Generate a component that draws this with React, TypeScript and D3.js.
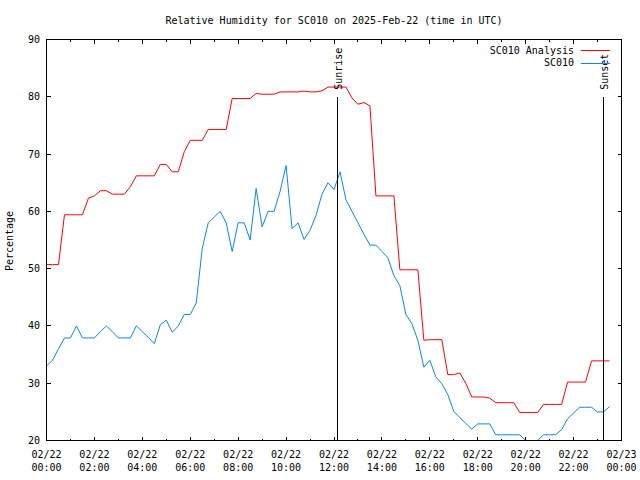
import React from "react";
import * as d3 from "d3";

const TITLE = "Relative Humidity for SC010 on 2025-Feb-22 (time in UTC)";
const Y_LABEL = "Percentage";
const START_HOUR = 0;
const STEP_HOURS = 0.25;

// SC010 Analysis (15-minute samples from 00:00 to 23:30)
const analysis = [
  50.7, 50.7, 50.7, 59.4, 59.4, 59.4, 59.4, 62.3,
  62.7, 63.6, 63.6, 63.0, 63.0, 63.0, 64.3, 66.2,
  66.2, 66.2, 66.2, 68.2, 68.2, 66.9, 66.9, 70.4,
  72.4, 72.4, 72.4, 74.3, 74.3, 74.3, 74.3, 79.7,
  79.7, 79.7, 79.7, 80.6, 80.45, 80.45, 80.45, 80.85,
  80.85, 80.85, 80.85, 81.0, 80.85, 80.85, 81.05, 81.7,
  81.7, 81.7, 81.7, 79.8, 78.7, 79.0, 78.4, 62.7,
  62.7, 62.7, 62.7, 49.8, 49.8, 49.8, 49.8, 37.5,
  37.6, 37.6, 37.6, 31.5, 31.5, 31.8, 30.0, 27.6,
  27.6, 27.6, 27.4, 26.6, 26.6, 26.6, 26.6, 24.9,
  24.9, 24.9, 24.9, 26.3, 26.3, 26.3, 26.3, 30.2,
  30.2, 30.2, 30.2, 33.9, 33.9, 33.9, 33.9,
];

// SC010 observations (15-minute samples from 00:00 to 23:30)
const observed = [
  33.0, 34.0, 36.0, 37.9, 37.9, 40.0, 37.9, 37.9,
  37.9, 39.0, 40.0, 39.0, 37.9, 37.9, 37.9, 40.0,
  39.0, 38.0, 36.9, 40.2, 41.0, 38.9, 40.0, 42.0,
  42.0, 44.0, 53.5, 58.0, 59.0, 60.0, 58.0, 53.0,
  58.0, 58.0, 55.0, 64.0, 57.3, 60.0, 60.0, 63.5,
  68.0, 57.0, 58.0, 55.1, 56.7, 59.3, 63.0, 65.0,
  63.8, 66.9, 62.0, 60.0, 58.0, 56.0, 54.1, 54.1,
  53.0, 51.9, 48.8, 47.0, 42.0, 40.4, 37.5, 32.8,
  34.0, 31.1, 29.9, 28.0, 25.1, 24.0, 23.0, 22.0,
  22.9, 22.9, 22.9, 21.0, 21.0, 21.0, 21.0, 21.0,
  20.0, 20.0, 20.0, 21.0, 21.0, 21.0, 21.9, 23.8,
  24.8, 25.8, 25.8, 25.8, 25.0, 25.0, 25.9,
];

const yTicks = [20, 30, 40, 50, 60, 70, 80, 90];
const xMajorTicks = [0, 2, 4, 6, 8, 10, 12, 14, 16, 18, 20, 22, 24];
const xTickDates = ["02/22", "02/22", "02/22", "02/22", "02/22", "02/22", "02/22", "02/22", "02/22", "02/22", "02/22", "02/22", "02/23"];
const xTickTimes = ["00:00", "02:00", "04:00", "06:00", "08:00", "10:00", "12:00", "14:00", "16:00", "18:00", "20:00", "22:00", "00:00"];
const xMinorTicks = [1, 3, 5, 7, 9, 11, 13, 15, 17, 19, 21, 23];

const SUNRISE = 12.13;
const SUNSET = 23.22;
const markerTop = 80;

const seriesNames = ["SC010 Analysis", "SC010"];
const seriesColors = ["#ff0000", "#0a84ff"];

const FONT = "'DejaVu Sans Mono', 'Liberation Mono', monospace";
const FS = 10;

export default function App() {
  const W = 640, H = 480;
  const L = 46.5, R = 621.5, T = 39.5, B = 440.5;
  const x = d3.scaleLinear().domain([0, 24]).range([L, R]);
  const y = d3.scaleLinear().domain([20, 90]).range([B, T]);

  const line = d3
    .line<number>()
    .x((_, i) => x(START_HOUR + i * STEP_HOURS))
    .y((d) => y(d));

  const series = [analysis, observed];

  return (
    <svg
      width={W}
      height={H}
      style={{ position: "absolute", left: 0, top: 0, background: "#fff" }}
      fontFamily={FONT}
      fontSize={FS}
    >
      <rect x={0} y={0} width={W} height={H} fill="#fff" />
      <defs>
        <clipPath id="plot">
          <rect x={L} y={T} width={R - L} height={B - T} />
        </clipPath>
      </defs>
      <text x={(L + R) / 2} y={20} textAnchor="middle" dominantBaseline="central">
        {TITLE}
      </text>

      {/* y ticks */}
      {yTicks.map((v) => (
        <g key={"y" + v} shapeRendering="crispEdges">
          <line x1={L} x2={L + 4} y1={y(v)} y2={y(v)} stroke="#000" />
          <line x1={R} x2={R - 4} y1={y(v)} y2={y(v)} stroke="#000" />
          <text x={40} y={y(v)} textAnchor="end" dominantBaseline="central">
            {v}
          </text>
        </g>
      ))}

      {/* x ticks */}
      {xMajorTicks.map((h, i) => (
        <g key={"x" + h}>
          <g shapeRendering="crispEdges">
            <line x1={x(h)} x2={x(h)} y1={B} y2={B - 4} stroke="#000" />
            <line x1={x(h)} x2={x(h)} y1={T} y2={T + 4} stroke="#000" />
          </g>
          <text x={x(h)} y={454} textAnchor="middle" dominantBaseline="central">
            {xTickDates[i]}
          </text>
          <text x={x(h)} y={467} textAnchor="middle" dominantBaseline="central">
            {xTickTimes[i]}
          </text>
        </g>
      ))}
      {xMinorTicks.map((h) => (
        <g key={"m" + h} shapeRendering="crispEdges">
          <line x1={x(h)} x2={x(h)} y1={B} y2={B - 2} stroke="#000" />
          <line x1={x(h)} x2={x(h)} y1={T} y2={T + 2} stroke="#000" />
        </g>
      ))}

      <text
        transform={`translate(13,241) rotate(-90)`}
        textAnchor="middle"
      >
        {Y_LABEL}
      </text>

      {/* series */}
      <g clipPath="url(#plot)">
        {series.map((s, i) => (
          <path key={i} d={line(s) || ""} fill="none" stroke={seriesColors[i]} strokeWidth={1} />
        ))}
      </g>

      {/* sunrise / sunset */}
      {[
        { t: SUNRISE, label: "Sunrise" },
        { t: SUNSET, label: "Sunset" },
      ].map((m) => (
        <g key={m.label}>
          <line
            x1={Math.round(x(m.t)) + 0.5}
            x2={Math.round(x(m.t)) + 0.5}
            y1={y(markerTop)}
            y2={B}
            stroke="#000"
            shapeRendering="crispEdges"
          />
          <text
            transform={`translate(${x(m.t) + 5},${y(markerTop) - 7}) rotate(-90)`}
            textAnchor="start"
          >
            {m.label}
          </text>
        </g>
      ))}

      {/* legend */}
      {seriesNames.map((n, i) => (
        <g key={n}>
          <text x={574} y={50 + i * 12.5} textAnchor="end" dominantBaseline="central">
            {n}
          </text>
          <line
            x1={581}
            x2={610}
            y1={Math.round(50 + i * 12.5) + 0.5}
            y2={Math.round(50 + i * 12.5) + 0.5}
            stroke={seriesColors[i]}
            shapeRendering="crispEdges"
          />
        </g>
      ))}

      {/* border */}
      <rect
        x={L}
        y={T}
        width={R - L}
        height={B - T}
        fill="none"
        stroke="#000"
        shapeRendering="crispEdges"
      />
    </svg>
  );
}
